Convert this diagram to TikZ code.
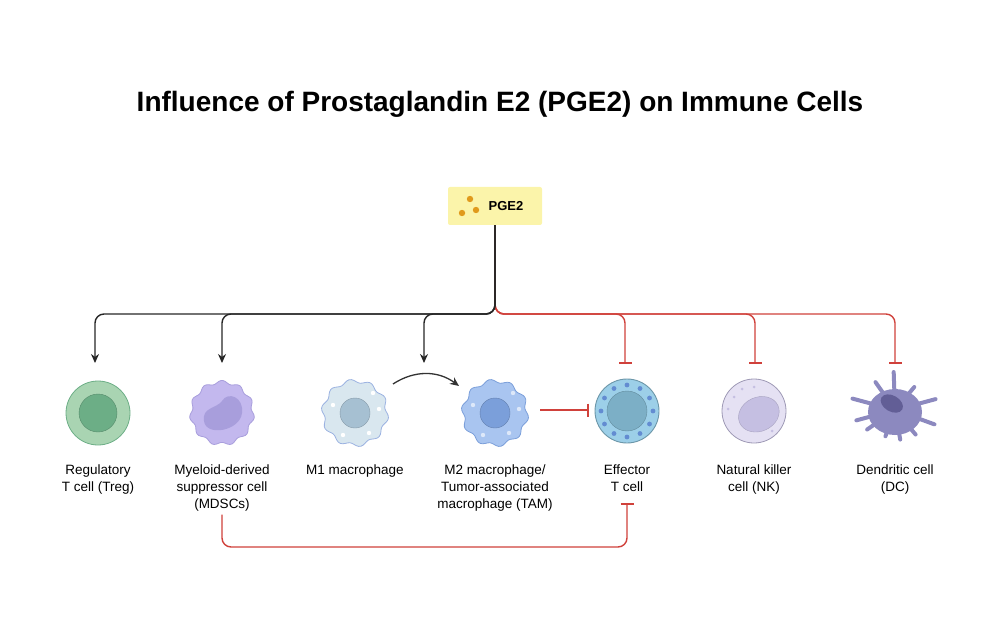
\documentclass[tikz,border=0pt]{standalone}
\usepackage{fontspec}
\setmainfont{Liberation Sans}
\usetikzlibrary{arrows.meta}
\definecolor{boxY}{HTML}{FBF4AA}
\definecolor{dotO}{HTML}{E09A1C}
\definecolor{inhR}{HTML}{D0413B}
\definecolor{tregC}{HTML}{A9D4B2}
\definecolor{tregN}{HTML}{6CAE86}
\definecolor{mdscC}{HTML}{C3B8EE}
\definecolor{mdscN}{HTML}{A89EDC}
\definecolor{moneC}{HTML}{D9E7EF}
\definecolor{moneN}{HTML}{A6C0D2}
\definecolor{mtwoC}{HTML}{A9C5F0}
\definecolor{mtwoN}{HTML}{7B9FDA}
\definecolor{effC}{HTML}{9CCFE8}
\definecolor{effN}{HTML}{7CAFC6}
\definecolor{nkC}{HTML}{E5E1F3}
\definecolor{nkN}{HTML}{C5BFE2}
\definecolor{dcC}{HTML}{8C89BF}
\definecolor{dcN}{HTML}{625E96}
\tikzset{
  cell/.style={circle, minimum size=64pt, inner sep=0pt},
  lbl/.style={align=center, anchor=north, font=\fontsize{13.5}{17}\selectfont},
  act/.style={-{Stealth[length=9pt,width=8pt]}, line width=1.4pt, black!85, rounded corners=9pt},
  inh/.style={-{Bar[width=13pt,line width=1.6pt]}, line width=1.4pt, inhR, rounded corners=9pt},
}
\begin{document}
\begin{tikzpicture}[x=1pt,y=-1pt]
\useasboundingbox (0,0) rectangle (1000,636);
% title
\node[font=\fontsize{28}{32}\bfseries\selectfont] (title) at (500,104) {Influence of Prostaglandin E2 (PGE2) on Immune Cells};
% PGE2 box
\node[fill=boxY, rounded corners=2pt, minimum width=94pt, minimum height=38pt] (pge) at (495,206) {};
\node[font=\fontsize{13}{15}\bfseries\selectfont] (pget) at (506,206) {PGE2};
\foreach \px/\py in {462/213, 476/210, 470/199}
  \fill[dotO] (\px,\py) circle (3.2pt);
% cells
\node[cell] (treg) at (98,413) {};
\node[cell] (mdsc) at (222,413) {};
\node[cell] (mone) at (355,413) {};
\node[cell] (mtwo) at (495,413) {};
\node[cell] (eff)  at (627,411) {};
\node[cell] (nk)   at (754,411) {};
\node[cell] (dc)   at (895,410) {};
% Treg
\draw[fill=tregC, draw=tregN, line width=0.8pt] (treg) circle (32pt);
\draw[fill=tregN, draw=tregN!80!black] (treg) circle (19pt);
% MDSC
\draw[fill=mdscC, draw=mdscN, line width=0.8pt, shift={(mdsc.center)}]
  plot[domain=0:360, samples=91, smooth cycle] (\x:{31+1.6*sin(11*\x)});
\fill[mdscN, shift={(mdsc.center)}]
  (-18,8) .. controls (-20,-6) and (-6,-4) .. (0,-12) .. controls (6,-22) and (22,-16) .. (20,0)
  .. controls (18,18) and (-16,24) .. (-18,8) -- cycle;
% M1
\draw[fill=moneC, draw=cyan!45!blue!40, line width=0.8pt, shift={(mone.center)}]
  plot[domain=0:360, samples=91, smooth cycle] (\x:{32+1.8*sin(10*\x)});
\draw[fill=moneN, draw=moneN!80!black] (mone) circle (15pt);
\foreach \dx/\dy in {-22/-8, 18/-20, 24/-4, -12/22, 14/20}
  \fill[white] ([shift={(\dx,\dy)}]mone.center) circle (2.2pt);
% M2
\draw[fill=mtwoC, draw=mtwoN, line width=0.8pt, shift={(mtwo.center)}]
  plot[domain=0:360, samples=91, smooth cycle] (\x:{32+1.8*sin(10*\x)});
\draw[fill=mtwoN, draw=mtwoN!80!black] (mtwo) circle (15pt);
\foreach \dx/\dy in {-22/-8, 18/-20, 24/-4, -12/22, 14/20}
  \fill[white!60!mtwoC] ([shift={(\dx,\dy)}]mtwo.center) circle (2.2pt);
% effector T cell
\draw[fill=effC, draw=cyan!50!black!75, line width=0.9pt] (eff) circle (32pt);
\foreach \a in {0,30,...,330}
  \fill[effN!80!blue] ([shift={(\a:26)}]eff.center) circle (2.4pt);
\draw[fill=effN, draw=effN!80!black] (eff) circle (20pt);
% NK
\draw[fill=nkC, draw=nkN!80!black, line width=0.8pt] (nk) circle (32pt);
\draw[fill=nkN, draw=nkN!85!black, rotate around={25:(nk.center)}] ([shift={(3,5)}]nk.center) ellipse (21pt and 17pt);
\foreach \dx/\dy in {-20/-14, -12/-22, 0/-24, -26/-2, 18/20, 22/8}
  \fill[nkN] ([shift={(\dx,\dy)}]nk.center) circle (1.5pt);
% DC
\begin{scope}[shift={(dc.center)}, dcC]
  \foreach \a/\l in {-92/38, -125/34, -165/44, 165/40, 145/34, 110/28, 80/30, 50/32, 20/42, -15/42, -50/30}
    \draw[line width=4pt, line cap=round] (0,0) -- (\a:\l);
  \fill (0,2) ellipse (27pt and 23pt);
  \fill[dcN, rotate=-30] (-6,-4) ellipse (12pt and 8pt);
\end{scope}
% labels
\node[lbl] (ltreg) at (98,461) {Regulatory\\T cell (Treg)};
\node[lbl] (lmdsc) at (222,461) {Myeloid-derived\\suppressor cell\\(MDSCs)};
\node[lbl] (lmone) at (355,461) {M1 macrophage};
\node[lbl] (lmtwo) at (495,461) {M2 macrophage/\\Tumor-associated\\macrophage (TAM)};
\node[lbl] (leff)  at (627,461) {Effector\\T cell};
\node[lbl] (lnk)   at (754,461) {Natural killer\\cell (NK)};
\node[lbl] (ldc)   at (895,461) {Dendritic cell\\(DC)};
% connectors
\coordinate (bTreg) at (95,314);  \coordinate (tTreg) at (95,363);
\coordinate (bMdsc) at (222,314); \coordinate (tMdsc) at (222,363);
\coordinate (bMtwo) at (424,314); \coordinate (tMtwo) at (424,363);
\coordinate (bEff)  at (625,314); \coordinate (tEff)  at (625,364);
\coordinate (bNk)   at (755,314); \coordinate (tNk)   at (755,364);
\coordinate (bDc)   at (895,314); \coordinate (tDc)   at (895,364);
\draw[inh] (pge.south) |- (bEff) -- (tEff);
\draw[inh] (pge.south) |- (bNk) -- (tNk);
\draw[inh] (pge.south) |- (bDc) -- (tDc);
\draw[act] (pge.south) |- (bTreg) -- (tTreg);
\draw[act] (pge.south) |- (bMdsc) -- (tMdsc);
\draw[act] (pge.south) |- (bMtwo) -- (tMtwo);
\coordinate (sOne) at (393,384); \coordinate (eTwo) at (459,386);
\draw[-{Stealth[length=9pt,width=8pt]}, line width=1.3pt, black!80] (sOne) to[bend left=35] (eTwo);
\coordinate (sTwo) at (540,410); \coordinate (eEff) at (589,410);
\draw[inh] (sTwo) -- (eEff);
\coordinate (bLow) at (222,547); \coordinate (eLow) at (627,503);
\draw[inh] (lmdsc.south) |- (bLow -| eLow) -- (eLow);
\end{tikzpicture}
\end{document}
